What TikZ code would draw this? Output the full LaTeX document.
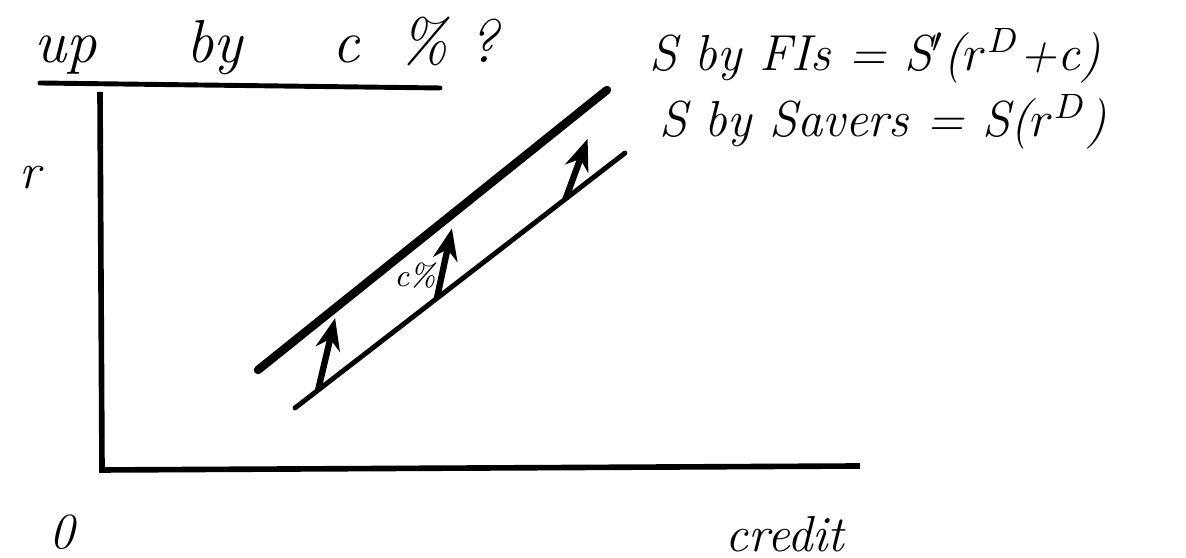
\documentclass[tikz,border=0pt]{standalone}
\usepackage{amsmath}
\usepackage{tikz}
\usetikzlibrary{arrows.meta, positioning, calc}
\definecolor{ink}{RGB}{0,0,0}
\tikzset{
  axis/.style={line width=1.6pt, color=ink},
  curve/.style={line width=1.4pt, color=ink, line cap=round},
  fatcurve/.style={line width=2.4pt, color=ink, line cap=round},
  uparrow/.style={-{Stealth[length=9pt, width=7pt]}, line width=1.8pt, color=ink},
  hand/.style={font=\Large\itshape, inner sep=1pt, anchor=west},
  axlabel/.style={font=\Large\itshape, inner sep=1pt}
}
\begin{document}
\begin{tikzpicture}[x=1cm, y=1cm]
  \useasboundingbox (0,0) rectangle (11.86,5.58);
  % axes
  \coordinate (origin) at (1.02,0.88);
  \coordinate (ytop) at (1.00,4.66);
  \coordinate (xend) at (8.60,0.92);
  \draw[axis] (ytop) -- (origin) -- (xend);
  \node[axlabel] (rlab) at (0.30,3.80) {r};
  \node[axlabel] (zero) at (0.62,0.26) {0};
  \node[axlabel] (credit) at (7.85,0.24) {credit};
  % title
  \coordinate (tl) at (0.40,4.75);
  \coordinate (tr) at (4.40,4.70);
  \draw[curve] (tl) -- (tr);
  \node[hand, font=\LARGE\itshape] (title) at (0.30,5.12) {up\hspace{0.9cm}by\hspace{0.9cm}c\hspace{0.4cm}\%\hspace{0.2cm}?};
  % supply curves
  \coordinate (Sa) at (2.95,1.50);
  \coordinate (Sb) at (6.25,4.05);
  \coordinate (Pa) at (2.58,1.88);
  \coordinate (Pb) at (6.07,4.68);
  \draw[curve] (Sa) -- (Sb);
  \draw[fatcurve] (Pa) -- (Pb);
  % upward shifts
  \coordinate (a1) at ($(Sa)!0.07!(Sb)$);
  \coordinate (a2) at ($(Sa)!0.43!(Sb)$);
  \coordinate (a3) at ($(Sa)!0.82!(Sb)$);
  \draw[uparrow] (a1) -- ++(0.17,0.72);
  \draw[uparrow] (a2) -- ++(0.15,0.70);
  \draw[uparrow] (a3) -- ++(0.22,0.60);
  \node[font=\small\itshape, inner sep=0pt] (cpct) at (4.15,2.82) {c\%};
  % curve labels
  \node[hand] (fis) at (6.45,5.02) {S by FIs = S$'$($r^{D}$+c)};
  \node[hand] (savers) at (6.55,4.36) {S by Savers = S($r^{D}$)};
\end{tikzpicture}
\end{document}
